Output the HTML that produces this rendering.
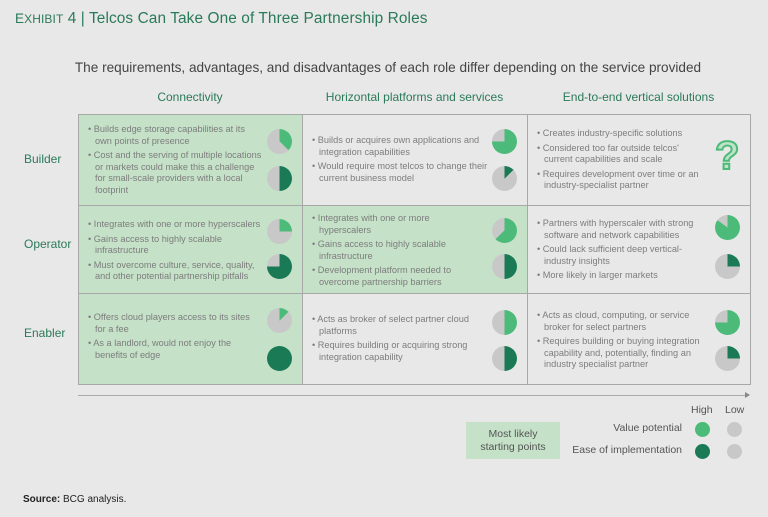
<!DOCTYPE html>
<html><head><meta charset="utf-8"><style>
*{margin:0;padding:0;box-sizing:border-box}
body{width:768px;height:517px;background:#e8e8e8;font-family:"Liberation Sans",sans-serif;position:relative;overflow:hidden}
.a{position:absolute}
.title{left:15px;top:10px;font-size:15.4px;color:#2a7a5a;letter-spacing:.1px}
.sub{left:0;width:768px;top:60px;text-align:center;font-size:13.6px;color:#444;padding-left:8px}
.ch{top:90px;font-size:12px;color:#2a7a5a;text-align:center}
.rl{left:24px;font-size:12px;color:#2a7a5a}
.cell{border:1px solid #a8a8a8}
.g{background:#c5e1c8}
ul{list-style:none;font-size:9.2px;line-height:11.5px;color:#7d7d7d}
li{padding-left:7px;text-indent:-7px;margin-bottom:3px}
li:before{content:"• "}
.p{position:absolute;width:25px;height:25px;border-radius:50%}
.lg{font-size:10.5px;color:#555}
</style></head><body>
<div class="a title"><span style="font-size:13.5px">E</span><span style="font-size:12px">XHIBIT</span> 4 | Telcos Can Take One of Three Partnership Roles</div>
<div class="a sub">The requirements, advantages, and disadvantages of each role differ depending on the service provided</div>
<div class="a ch" style="left:78px;width:224px">Connectivity</div>
<div class="a ch" style="left:302px;width:225px">Horizontal platforms and services</div>
<div class="a ch" style="left:527px;width:223px">End-to-end vertical solutions</div>
<div class="a rl" style="top:152px">Builder</div>
<div class="a rl" style="top:237px">Operator</div>
<div class="a rl" style="top:326px">Enabler</div>

<div class="a cell g" style="left:78px;top:114px;width:225px;height:92px"></div>
<div class="a cell" style="left:302px;top:114px;width:226px;height:92px"></div>
<div class="a cell" style="left:527px;top:114px;width:224px;height:92px"></div>
<div class="a cell g" style="left:78px;top:205px;width:225px;height:89px"></div>
<div class="a cell g" style="left:302px;top:205px;width:226px;height:89px"></div>
<div class="a cell" style="left:527px;top:205px;width:224px;height:89px"></div>
<div class="a cell g" style="left:78px;top:293px;width:225px;height:92px"></div>
<div class="a cell" style="left:302px;top:293px;width:226px;height:92px"></div>
<div class="a cell" style="left:527px;top:293px;width:224px;height:92px"></div>

<ul class="a" style="left:88px;top:124px;width:175px"><li>Builds edge storage capabilities at its own points of presence</li><li>Cost and the serving of multiple locations or markets could make this a challenge for small-scale providers with a local footprint</li></ul>
<ul class="a" style="left:88px;top:219px;width:180px"><li>Integrates with one or more hyperscalers</li><li>Gains access to highly scalable infrastructure</li><li>Must overcome culture, service, quality, and other potential partnership pitfalls</li></ul>
<ul class="a" style="left:88px;top:312px;width:170px"><li>Offers cloud players access to its sites for a fee</li><li>As a landlord, would not enjoy the benefits of edge</li></ul>

<ul class="a" style="left:312px;top:135px;width:180px"><li>Builds or acquires own applications and integration capabilities</li><li>Would require most telcos to change their current business model</li></ul>
<ul class="a" style="left:312px;top:213px;width:170px"><li>Integrates with one or more hyperscalers</li><li>Gains access to highly scalable infrastructure</li><li>Development platform needed to overcome partnership barriers</li></ul>
<ul class="a" style="left:312px;top:314px;width:175px"><li>Acts as broker of select partner cloud platforms</li><li>Requires building or acquiring strong integration capability</li></ul>

<ul class="a" style="left:537px;top:128px;width:170px"><li>Creates industry-specific solutions</li><li>Considered too far outside telcos' current capabilities and scale</li><li>Requires development over time or an industry-specialist partner</li></ul>
<ul class="a" style="left:537px;top:218px;width:170px"><li>Partners with hyperscaler with strong software and network capabilities</li><li>Could lack sufficient deep vertical-industry insights</li><li>More likely in larger markets</li></ul>
<ul class="a" style="left:537px;top:310px;width:170px"><li>Acts as cloud, computing, or service broker for select partners</li><li>Requires building or buying integration capability and, potentially, finding an industry specialist partner</li></ul>

<div class="p" style="left:267px;top:129px;background:conic-gradient(#4cbb7a 0 37.5%,#c8c8c8 0)"></div>
<div class="p" style="left:267px;top:166px;background:conic-gradient(#1b7a56 0 50%,#c8c8c8 0)"></div>
<div class="p" style="left:267px;top:219px;background:conic-gradient(#4cbb7a 0 25%,#c8c8c8 0)"></div>
<div class="p" style="left:267px;top:254px;background:conic-gradient(#1b7a56 0 75%,#c8c8c8 0)"></div>
<div class="p" style="left:267px;top:308px;background:conic-gradient(#4cbb7a 0 12.5%,#c8c8c8 0)"></div>
<div class="p" style="left:267px;top:346px;background:#1b7a56"></div>

<div class="p" style="left:492px;top:129px;background:conic-gradient(#4cbb7a 0 75%,#c8c8c8 0)"></div>
<div class="p" style="left:492px;top:166px;background:conic-gradient(#1b7a56 0 12.5%,#c8c8c8 0)"></div>
<div class="p" style="left:492px;top:218px;background:conic-gradient(#4cbb7a 0 62.5%,#c8c8c8 0)"></div>
<div class="p" style="left:492px;top:254px;background:conic-gradient(#1b7a56 0 50%,#c8c8c8 0)"></div>
<div class="p" style="left:492px;top:310px;background:conic-gradient(#4cbb7a 0 50%,#c8c8c8 0)"></div>
<div class="p" style="left:492px;top:346px;background:conic-gradient(#1b7a56 0 50%,#c8c8c8 0)"></div>

<div class="a" style="left:715px;top:134px;font-size:40px;font-weight:bold;color:#bfe3c8;-webkit-text-stroke:2px #4cbb7a;line-height:44px">?</div>
<div class="p" style="left:715px;top:215px;background:conic-gradient(#4cbb7a 0 85%,#c8c8c8 0)"></div>
<div class="p" style="left:715px;top:254px;background:conic-gradient(#1b7a56 0 25%,#c8c8c8 0)"></div>
<div class="p" style="left:715px;top:310px;background:conic-gradient(#4cbb7a 0 75%,#c8c8c8 0)"></div>
<div class="p" style="left:715px;top:346px;background:conic-gradient(#1b7a56 0 25%,#c8c8c8 0)"></div>

<div class="a" style="left:78px;top:395px;width:668px;height:1px;background:#aaa"></div>
<div class="a" style="left:745px;top:392px;width:0;height:0;border-left:5px solid #888;border-top:3px solid transparent;border-bottom:3px solid transparent"></div>

<div class="a lg" style="left:691px;top:404px">High</div>
<div class="a lg" style="left:725px;top:404px">Low</div>
<div class="a" style="left:466px;top:422px;width:94px;height:37px;background:#c5e1c8;font-size:10.5px;color:#555;text-align:center;line-height:12.5px;padding-top:6px">Most likely<br>starting points</div>
<div class="a lg" style="left:540px;top:422px;width:142px;text-align:right">Value potential</div>
<div class="a lg" style="left:540px;top:444px;width:142px;text-align:right">Ease of implementation</div>
<div class="p" style="left:695px;top:422px;width:15px;height:15px;background:#4cbb7a"></div>
<div class="p" style="left:727px;top:422px;width:15px;height:15px;background:#c8c8c8"></div>
<div class="p" style="left:695px;top:444px;width:15px;height:15px;background:#1b7a56"></div>
<div class="p" style="left:727px;top:444px;width:15px;height:15px;background:#c8c8c8"></div>

<div class="a" style="left:23px;top:494px;font-size:10px;color:#222"><b>Source:</b> BCG analysis.</div>
</body></html>
